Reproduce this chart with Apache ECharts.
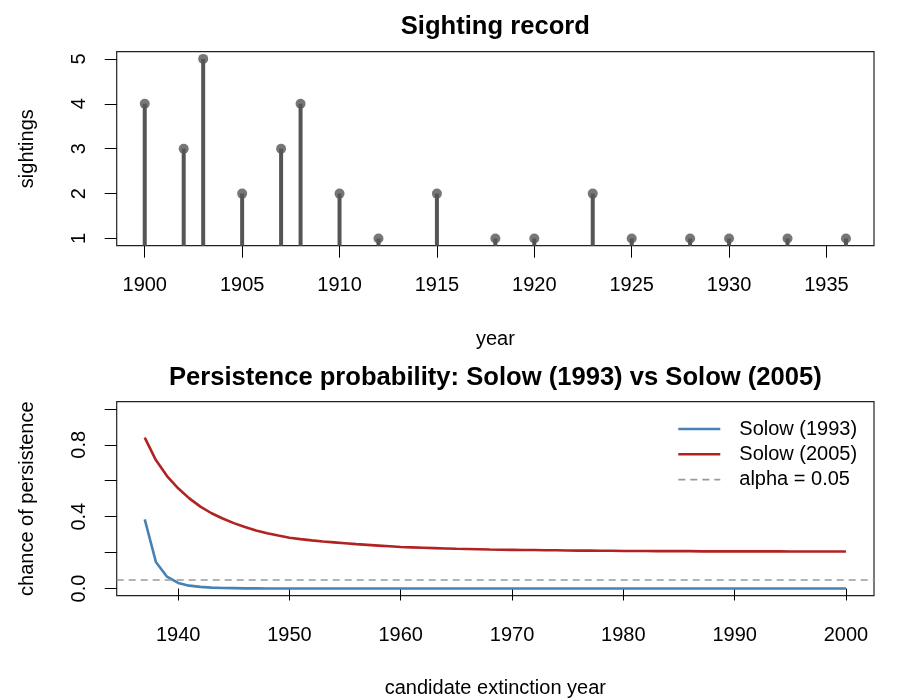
<!DOCTYPE html>
<html><head><meta charset="utf-8">
<script src="https://cdn.jsdelivr.net/npm/echarts@6/dist/echarts.min.js"></script>
<style>html,body{margin:0;padding:0;background:#fff}#c{width:900px;height:700px}</style>
</head><body><div id="c"></div>
<script>
// ---- data ----
const sightYears = [1900,1902,1903,1905,1907,1908,1910,1912,1915,1918,1920,1923,1925,1928,1930,1933,1936];
const sightCounts = [4,3,5,2,3,4,2,1,2,1,1,2,1,1,1,1,1];
const topXTicks = [1900,1905,1910,1915,1920,1925,1930,1935];
const topYTicks = [1,2,3,4,5];

const candYears = [1937,1938,1939,1940,1941,1942,1943,1944,1945,1946,1947,1948,1949,1950,1951,1952,1953,1954,1955,1956,1957,1958,1959,1960,1961,1962,1963,1964,1965,1966,1967,1968,1969,1970,1971,1972,1973,1974,1975,1976,1977,1978,1979,1980,1981,1982,1983,1984,1985,1986,1987,1988,1989,1990,1991,1992,1993,1994,1995,1996,1997,1998,1999,2000];
const solow1993 = [0.385,0.148,0.066,0.031,0.016,0.009,0.005,0.003,0.002,0.001,0.001,0,0,0,0,0,0,0,0,0,0,0,0,0,0,0,0,0,0,0,0,0,0,0,0,0,0,0,0,0,0,0,0,0,0,0,0,0,0,0,0,0,0,0,0,0,0,0,0,0,0,0,0,0];
const solow2005 = [0.840,0.715,0.626,0.558,0.502,0.456,0.419,0.390,0.364,0.342,0.323,0.308,0.295,0.283,0.275,0.268,0.262,0.257,0.252,0.247,0.243,0.239,0.235,0.231,0.229,0.227,0.225,0.223,0.221,0.220,0.219,0.217,0.216,0.215,0.214,0.214,0.213,0.213,0.212,0.211,0.211,0.210,0.210,0.209,0.209,0.209,0.208,0.208,0.208,0.208,0.207,0.207,0.207,0.207,0.207,0.207,0.207,0.207,0.206,0.206,0.206,0.206,0.206,0.206];
const alphaLevel = 0.05;
const botXTicks = [1940,1950,1960,1970,1980,1990,2000];
const botYTicks = [0,0.2,0.4,0.6,0.8,1.0];
const botYLabels = [0,0.4,0.8];

// ---- helpers ----
function expand(lo, hi){ const d=(hi-lo)*0.04; return [lo-d, hi+d]; }
const FONT = "'Liberation Sans', Arial, Helvetica, sans-serif";
const topX = expand(sightYears[0], sightYears[sightYears.length-1]);
const topY = expand(1, 5);
const botX = expand(candYears[0], candYears[candYears.length-1]);
const botY = expand(0, 1);

function axis(ext, ticks, extra){
  return Object.assign({
    type:'value', min:ext[0], max:ext[1], scale:true,
    axisLine:{show:false}, splitLine:{show:false},
    axisTick:{show:true, length:12, customValues:ticks, lineStyle:{color:'#000', width:1}},
    nameTextStyle:{fontSize:20, color:'#000', fontFamily:FONT},
    nameLocation:'middle'
  }, extra);
}
function lab(values, extra){
  return Object.assign({customValues:values, fontSize:20, color:'#000', fontFamily:FONT, margin:30, formatter:v=>String(v)}, extra);
}

const chart = echarts.init(document.getElementById('c'), null, {renderer:'canvas'});
const G1 = {left:116.7, top:51.7, width:757.3, height:194};
const G2 = {left:116.7, top:401.7, width:757.3, height:194};

chart.setOption({
  animation:false,
  backgroundColor:'#fff',
  textStyle:{fontFamily:FONT},
  graphic:[
    {type:'text', x:G1.left+G1.width/2, y:27, style:{text:'Sighting record', font:"bold 25.6px "+FONT, fill:'#000', textAlign:'center', textVerticalAlign:'middle'}},
    {type:'text', x:G2.left+G2.width/2, y:377.5, style:{text:'Persistence probability: Solow (1993) vs Solow (2005)', font:"bold 25.6px "+FONT, fill:'#000', textAlign:'center', textVerticalAlign:'middle'}}
  ],
  grid:[
    Object.assign({show:true, borderColor:'#222', borderWidth:1.2, backgroundColor:'transparent'}, G1),
    Object.assign({show:true, borderColor:'#222', borderWidth:1.2, backgroundColor:'transparent'}, G2)
  ],
  xAxis:[
    axis(topX, topXTicks, {gridIndex:0, name:'year', nameGap:84, axisLabel:lab(topXTicks)}),
    axis(botX, botXTicks, {gridIndex:1, name:'candidate extinction year', nameGap:83, axisLabel:lab(botXTicks)})
  ],
  yAxis:[
    axis(topY, topYTicks, {gridIndex:0, name:'sightings', nameGap:79, axisLabel:lab(topYTicks, {rotate:90, margin:27})}),
    axis(botY, botYTicks, {gridIndex:1, name:'chance of persistence', nameGap:79, axisLabel:lab(botYLabels, {rotate:90, margin:27, formatter:v=>v.toFixed(1)})})
  ],
  legend:{
    show:true, orient:'vertical', left:677, top:419, padding:0,
    itemWidth:42, itemHeight:20, itemGap:5.3,
    itemStyle:{opacity:0},
    textStyle:{fontSize:20, color:'#000', fontFamily:FONT, padding:[0,0,0,14]},
    data:[
      {name:'Solow (1993)', lineStyle:{width:2.6}},
      {name:'Solow (2005)', lineStyle:{width:2.6}},
      {name:'alpha = 0.05', lineStyle:{width:1.7}}
    ]
  },
  series:[
    {type:'bar', xAxisIndex:0, yAxisIndex:0, barWidth:4, clip:true, silent:true,
     itemStyle:{color:'#555'}, data:sightYears.map((y,i)=>[y, sightCounts[i]])},
    {type:'scatter', xAxisIndex:0, yAxisIndex:0, symbol:'circle', symbolSize:10, silent:true,
     itemStyle:{color:'#555'}, data:sightYears.map((y,i)=>[y, sightCounts[i]])},
    {name:'Solow (1993)', type:'line', xAxisIndex:1, yAxisIndex:1, symbol:'none', showSymbol:false, silent:true,
     lineStyle:{color:'#4682B4', width:2.6}, itemStyle:{color:'#4682B4'}, z:3,
     data:candYears.map((y,i)=>[y, solow1993[i]])},
    {name:'Solow (2005)', type:'line', xAxisIndex:1, yAxisIndex:1, symbol:'none', showSymbol:false, silent:true,
     lineStyle:{color:'#B22222', width:2.6}, itemStyle:{color:'#B22222'}, z:3,
     data:candYears.map((y,i)=>[y, solow2005[i]])},
    {name:'alpha = 0.05', type:'line', xAxisIndex:1, yAxisIndex:1, symbol:'none', showSymbol:false, silent:true,
     lineStyle:{color:'#999', width:1.7, type:[7,5]}, itemStyle:{color:'#999'}, z:2,
     data:[],
     markLine:{silent:true, symbol:['none','none'], label:{show:false},
       lineStyle:{color:'#999', width:1.7, type:[7,5]},
       data:[{yAxis:alphaLevel}]}}
  ]
});
</script>
</body></html>
